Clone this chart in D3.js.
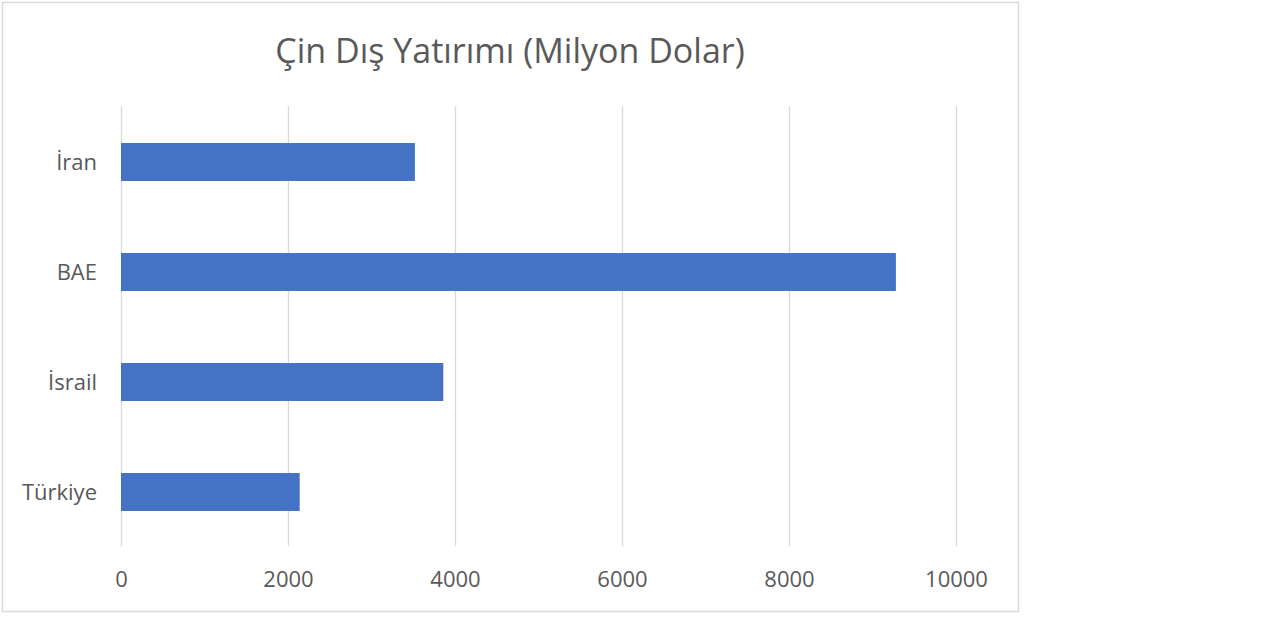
<!DOCTYPE html>
<html><head><meta charset="utf-8">
<script src="https://cdn.jsdelivr.net/npm/d3@7"></script>
<style>body{margin:0;background:#fff;}svg{display:block;}</style>
</head><body>
<script>
const categories = ["İran", "BAE", "İsrail", "Türkiye"];
const values = [3520, 9280, 3860, 2140];
const xTicks = [0, 2000, 4000, 6000, 8000, 10000];
const title = "Çin Dış Yatırımı (Milyon Dolar)";

const W = 1280, H = 618;
const svg = d3.select("body").append("svg").attr("width", W).attr("height", H);
const font = "'Open Sans', 'Noto Sans', sans-serif";
const textColor = "#595959";

svg.append("rect").attr("x", 2.5).attr("y", 2.5).attr("width", 1016).attr("height", 609)
  .attr("fill", "#fff").attr("stroke", "#d9d9d9").attr("stroke-width", 1.5);

const pLeft = 121, pRight = 956, pTop = 107, pBottom = 547;
const x = d3.scaleLinear().domain([0, 10000]).range([pLeft, pRight]);
const y = d3.scaleBand().domain(categories).range([pTop, pBottom]).paddingInner(0.655).paddingOuter(0.3275);

svg.append("g").selectAll("line").data(xTicks).join("line")
  .attr("x1", d => Math.round(x(d)) + 0.5).attr("x2", d => Math.round(x(d)) + 0.5)
  .attr("y1", pTop - 1).attr("y2", pBottom - 1)
  .attr("stroke", "#d9d9d9").attr("stroke-width", 1.3);

svg.append("g").selectAll("rect").data(values).join("rect")
  .attr("x", x(0)).attr("y", (d, i) => y(categories[i]))
  .attr("width", d => x(d) - x(0)).attr("height", y.bandwidth())
  .attr("fill", "#4472C4");

const xAxis = d3.axisBottom(x).tickValues(xTicks).tickSize(0).tickPadding(0).tickFormat(d3.format("d"));
const gx = svg.append("g").attr("transform", `translate(0,${pBottom + 40})`).call(xAxis);
gx.select(".domain").remove();
gx.selectAll("text").attr("font-family", font).attr("font-size", 22).attr("fill", textColor).attr("dy", 0);

const yAxis = d3.axisLeft(y).tickSize(0).tickPadding(0);
const gy = svg.append("g").attr("transform", `translate(97,0)`).call(yAxis);
gy.select(".domain").remove();
gy.selectAll("text").attr("font-family", font).attr("font-size", 22).attr("fill", textColor).attr("dy", "0.35em");

svg.append("text").attr("x", 510).attr("y", 63).attr("text-anchor", "middle")
  .attr("font-family", font).attr("font-size", 34).attr("fill", textColor).text(title);
</script>
</body></html>
